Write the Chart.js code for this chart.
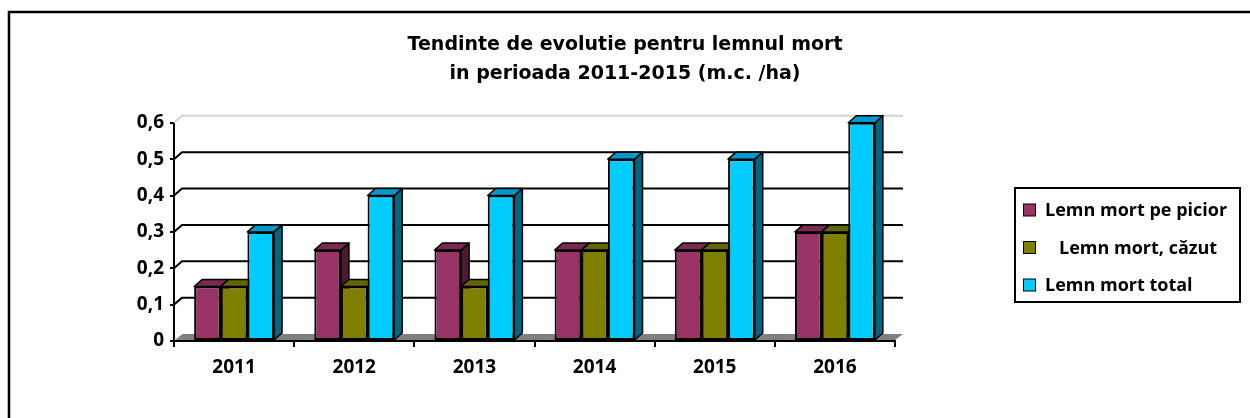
<!DOCTYPE html>
<html>
<head>
<meta charset="utf-8">
<script src="https://cdn.jsdelivr.net/npm/chart.js@4.4.1/dist/chart.umd.min.js"></script>
<style>
  html, body { margin: 0; padding: 0; background: #fff; }
  #wrap { width: 1250px; height: 418px; }
</style>
</head>
<body>
<div id="wrap"><canvas id="chart" width="1250" height="418"></canvas></div>
<script>
// data
const years = ['2011', '2012', '2013', '2014', '2015', '2016'];
const standing = [0.15, 0.25, 0.25, 0.25, 0.25, 0.3];
const fallen = [0.15, 0.15, 0.15, 0.25, 0.25, 0.3];
const total = [0.3, 0.4, 0.4, 0.5, 0.5, 0.6];
const seriesNames = ['Lemn mort pe picior', '   Lemn mort, căzut', 'Lemn mort total'];
const titleLines = ['Tendinte de evolutie pentru lemnul mort', 'in perioada 2011-2015 (m.c. /ha)'];

// colours: front, top, side
const fronts = ['#993366', '#808000', '#00ccff'];
const tops = ['#7a2952', '#666600', '#0099cc'];
const sides = ['#4d1a33', '#4d4d00', '#006680'];

const DX = 8, DY = 7; // fake depth
const labelFont = { family: 'Open Sans', weight: 'bold', size: 19 };

// draws floor, back wall grid and the top/side faces of every bar
const depth3d = {
  id: 'depth3d',
  beforeDatasetsDraw(chart) {
    const { ctx, chartArea: a } = chart;
    const y = chart.scales.y;
    ctx.save();
    // floor
    ctx.fillStyle = '#808080';
    ctx.beginPath();
    ctx.moveTo(a.left, a.bottom - 1);
    ctx.lineTo(a.left + DX, a.bottom - DY);
    ctx.lineTo(a.right + DX, a.bottom - DY);
    ctx.lineTo(a.right, a.bottom - 1);
    ctx.closePath();
    ctx.fill();
    ctx.strokeStyle = '#e0e0e0';
    ctx.lineWidth = 1;
    ctx.beginPath();
    ctx.moveTo(a.left + 1, a.bottom - 1);
    ctx.lineTo(a.left + DX, a.bottom - DY);
    ctx.stroke();

    // wall grid
    y.ticks.forEach(t => {
      if (t.value <= 0) return;
      const py = y.getPixelForValue(t.value);
      const isTop = t.value >= y.max - 1e-9;
      ctx.strokeStyle = isTop ? '#d4d4d4' : '#000';
      ctx.lineWidth = 2;
      ctx.beginPath();
      ctx.moveTo(a.left, py);
      ctx.lineTo(a.left + DX, py - DY);
      ctx.lineTo(a.right + DX, py - DY);
      ctx.stroke();
    });

    // bar sides and tops, left to right
    const metas = chart.data.datasets.map((d, i) => chart.getDatasetMeta(i));
    ctx.lineWidth = 1.5;
    ctx.strokeStyle = '#000';
    ctx.lineJoin = 'round';
    for (let j = 0; j < years.length; j++) {
      metas.forEach((m, i) => {
        const bar = m.data[j];
        const p = bar.getProps(['x', 'y', 'base', 'width'], true);
        const l = p.x - p.width / 2, r = p.x + p.width / 2;
        // side
        ctx.fillStyle = sides[i];
        ctx.beginPath();
        ctx.moveTo(r, p.y);
        ctx.lineTo(r + DX, p.y - DY);
        ctx.lineTo(r + DX, p.base - DY);
        ctx.lineTo(r, p.base);
        ctx.closePath();
        ctx.fill();
        ctx.stroke();
        // top
        ctx.fillStyle = tops[i];
        ctx.beginPath();
        ctx.moveTo(l, p.y);
        ctx.lineTo(l + DX, p.y - DY);
        ctx.lineTo(r + DX, p.y - DY);
        ctx.lineTo(r, p.y);
        ctx.closePath();
        ctx.fill();
        ctx.stroke();
      });
    }
    ctx.restore();
  },
  afterDraw(chart) {
    const { ctx } = chart;
    ctx.save();
    // outer frame (runs off the right and bottom edges)
    ctx.strokeStyle = '#000';
    ctx.lineWidth = 2.5;
    ctx.strokeRect(9, 12, 1260, 430);

    // legend
    const lx = 1015, ly = 188, lw = 225, lh = 114;
    ctx.lineWidth = 2;
    ctx.strokeRect(lx, ly, lw, lh);
    ctx.font = 'bold 18px "Open Sans"';
    ctx.textBaseline = 'middle';
    ctx.textAlign = 'left';
    chart.data.datasets.forEach((ds, i) => {
      const cy = ly + 22 + i * 37.5;
      ctx.fillStyle = ds.backgroundColor;
      ctx.fillRect(lx + 8.5, cy - 6, 12, 12);
      ctx.lineWidth = 1;
      ctx.strokeStyle = '#000';
      ctx.strokeRect(lx + 8.5, cy - 6, 12, 12);
      ctx.fillStyle = '#000';
      ctx.fillText(ds.label, lx + 30, cy + 1);
    });
    ctx.restore();
  }
};

const datasets = [standing, fallen, total].map((vals, i) => ({
  label: seriesNames[i],
  data: vals,
  backgroundColor: fronts[i],
  borderColor: '#000',
  borderWidth: 2,
  borderSkipped: false,
  categoryPercentage: 0.665,
  barPercentage: 1
}));

new Chart(document.getElementById('chart'), {
  type: 'bar',
  data: { labels: years, datasets },
  plugins: [depth3d],
  options: {
    responsive: false,
    animation: false,
    devicePixelRatio: 1,
    layout: { padding: 0 },
    plugins: {
      legend: { display: false },
      tooltip: { enabled: false },
      title: {
        display: true,
        text: titleLines,
        color: '#000',
        font: { family: 'DejaVu Sans', weight: 'bold', size: 19, lineHeight: 1.52 },
        padding: { top: 30.5, bottom: 34.5 }
      }
    },
    scales: {
      x: {
        afterFit(scale) { scale.height = 77; },
        grid: { drawOnChartArea: false, drawTicks: true, tickLength: 6, color: '#000', lineWidth: 2, offset: true },
        border: { display: true, color: '#000', width: 2 },
        ticks: { color: '#000', font: labelFont, padding: 9 }
      },
      y: {
        min: 0,
        max: 0.6,
        afterFit(scale) { scale.width = 174; },
        grid: { drawOnChartArea: false, drawTicks: true, tickLength: 4, color: '#000', lineWidth: 2 },
        border: { display: true, color: '#000', width: 2 },
        ticks: {
          stepSize: 0.1,
          color: '#000',
          font: labelFont,
          padding: 6,
          callback: v => v === 0 ? '0' : v.toFixed(1).replace('.', ',')
        }
      },
      // empty right-hand strip that leaves room for the legend
      side: {
        type: 'linear',
        position: 'right',
        afterFit(scale) { scale.width = 355; },
        grid: { display: false },
        border: { display: false },
        ticks: { display: false }
      }
    }
  }
});
</script>
</body>
</html>
